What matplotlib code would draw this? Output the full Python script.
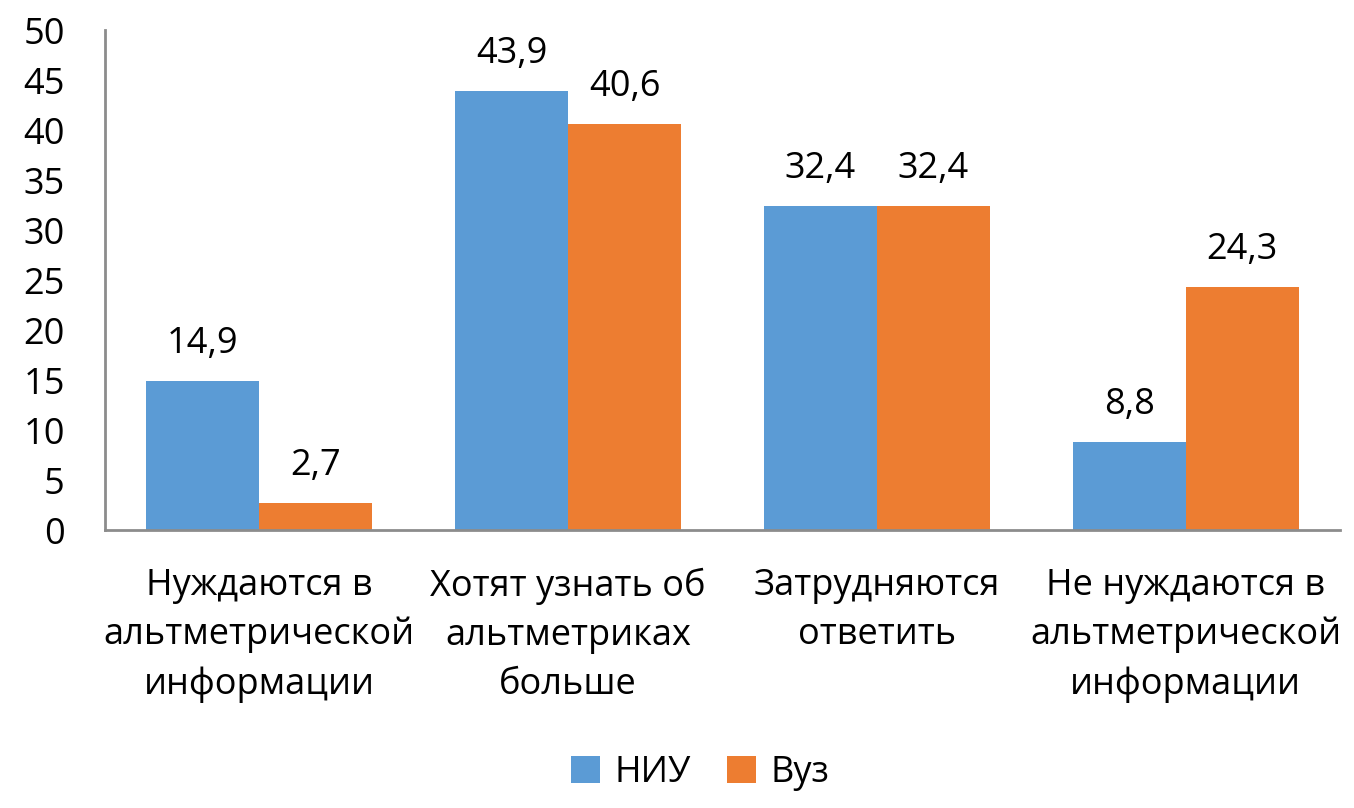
import matplotlib
matplotlib.use("Agg")
import matplotlib.pyplot as plt
import numpy as np
from matplotlib.patches import Patch

categories = ["Нуждаются в\nальтметрической\nинформации",
              "Хотят узнать об\nальтметриках\nбольше",
              "Затрудняются\nответить",
              "Не нуждаются в\nальтметрической\nинформации"]
niu = [14.9, 43.9, 32.4, 8.8]
vuz = [2.7, 40.6, 32.4, 24.3]
series_names = ["НИУ", "Вуз"]
yticks = [0, 5, 10, 15, 20, 25, 30, 35, 40, 45, 50]

BLUE = "#5B9BD5"
ORANGE = "#ED7D31"
FS = 26

plt.rcParams['font.family'] = ['Open Sans', 'DejaVu Sans']

fig = plt.figure(figsize=(13.54, 8.08), dpi=100)
ax = fig.add_axes([105/1354, 1-530/808, 1235/1354, 500/808])

x = np.arange(len(categories))
w = 0.366
b1 = ax.bar(x - w/2, niu, width=w, color=BLUE, label=series_names[0])
b2 = ax.bar(x + w/2, vuz, width=w, color=ORANGE, label=series_names[1])

def fmt(v):
    return f"{v:.1f}".replace(".", ",")

for bars, vals in ((b1, niu), (b2, vuz)):
    for r, v in zip(bars, vals):
        ax.annotate(fmt(v), (r.get_x() + r.get_width()/2, v), xytext=(0, 20),
                    textcoords="offset points", ha="center", va="baseline",
                    fontsize=FS, color="black")

ax.set_xlim(-0.5, len(categories) - 0.5)
ax.set_ylim(0, 50)
ax.set_yticks(yticks)
ax.set_yticklabels([str(t) for t in yticks], fontsize=FS)
ax.set_xticks(x)
ax.set_xticklabels(categories, fontsize=FS, linespacing=1.49)
ax.tick_params(axis="y", length=0, pad=29)
ax.tick_params(axis="x", length=0, pad=27)

for s in ("top", "right"):
    ax.spines[s].set_visible(False)
for s in ("left", "bottom"):
    ax.spines[s].set_color("#8c8c8c")
    ax.spines[s].set_linewidth(2)

handles = [Patch(facecolor=BLUE, label=series_names[0]),
           Patch(facecolor=ORANGE, label=series_names[1])]
fig.legend(handles=handles, loc="center", bbox_to_anchor=(700/1354, 1-773/808),
           ncol=2, frameon=False, fontsize=FS, handlelength=0.8, handleheight=0.8,
           handletextpad=0.4, columnspacing=1.0)

fig.savefig("out.png", dpi=100)
